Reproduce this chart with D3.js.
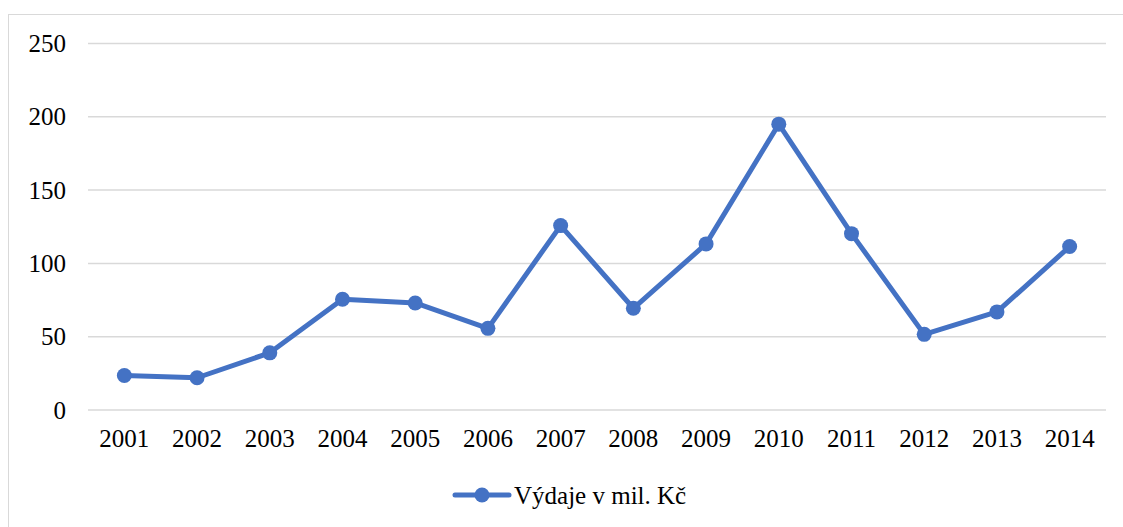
<!DOCTYPE html>
<meta charset="utf-8">
<style>
  body { margin: 0; background: #fff; }
  svg { display: block; font-family: "Liberation Serif", "Times New Roman", serif; }
</style>
<svg width="1123" height="527"></svg>
<script src="https://cdn.jsdelivr.net/npm/d3@7"></script>
<script>

var years = ["2001", "2002", "2003", "2004", "2005", "2006", "2007",
             "2008", "2009", "2010", "2011", "2012", "2013", "2014"];
var vydaje = [23.5, 22, 39, 75.5, 73, 55.7, 125.8, 69.4, 113.3, 195, 120.3, 51.6, 66.9, 111.5];
var yTicks = [0, 50, 100, 150, 200, 250];
var seriesName = "Výdaje v mil. Kč";

var svg = d3.select("svg"),
    blue = "#4472c4";

var margin = {left: 88, right: 1106, top: 43.5, bottom: 410};

var x = d3.scaleBand()
    .domain(years)
    .range([margin.left, margin.right]);

var y = d3.scaleLinear()
    .domain([0, 250])
    .range([margin.bottom, margin.top]);

// chart frame
svg.append("rect")
    .attr("x", 8.5).attr("y", 14.5)
    .attr("width", 1123).attr("height", 527)
    .attr("fill", "none")
    .attr("stroke", "#d9d9d9");

// gridlines
svg.append("g")
  .selectAll("line")
  .data(yTicks)
  .join("line")
    .attr("x1", margin.left).attr("x2", margin.right)
    .attr("y1", d => y(d)).attr("y2", d => y(d))
    .attr("stroke", "#d9d9d9")
    .attr("stroke-width", 1.5);

// y axis labels
var yAxis = svg.append("g")
    .attr("transform", "translate(66,0)")
    .call(d3.axisLeft(y).tickValues(yTicks).tickSize(0).tickPadding(0))
    .attr("font-family", null)
    .attr("font-size", 25);
yAxis.select(".domain").remove();
yAxis.selectAll("text").attr("fill", "#000");

// x axis labels
var xAxis = svg.append("g")
    .attr("transform", "translate(0," + margin.bottom + ")")
    .call(d3.axisBottom(x).tickSize(0).tickPadding(19))
    .attr("font-family", null)
    .attr("font-size", 25);
xAxis.select(".domain").remove();
xAxis.selectAll("text").attr("fill", "#000");

var cx = function(d, i) { return x(years[i]) + x.bandwidth() / 2; };

var line = d3.line()
    .x(cx)
    .y(d => y(d));

svg.append("path")
    .datum(vydaje)
    .attr("d", line)
    .attr("fill", "none")
    .attr("stroke", blue)
    .attr("stroke-width", 5)
    .attr("stroke-linejoin", "round")
    .attr("stroke-linecap", "round");

svg.append("g")
  .selectAll("circle")
  .data(vydaje)
  .join("circle")
    .attr("cx", cx)
    .attr("cy", d => y(d))
    .attr("r", 7.5)
    .attr("fill", blue);

// legend
var legend = svg.append("g").attr("transform", "translate(455,495)");
legend.append("line")
    .attr("x1", 0).attr("x2", 54)
    .attr("stroke", blue)
    .attr("stroke-width", 5)
    .attr("stroke-linecap", "round");
legend.append("circle")
    .attr("cx", 27).attr("r", 7.5)
    .attr("fill", blue);
legend.append("text")
    .attr("x", 59).attr("dy", "0.35em")
    .attr("font-size", 25)
    .text(seriesName);

</script>
